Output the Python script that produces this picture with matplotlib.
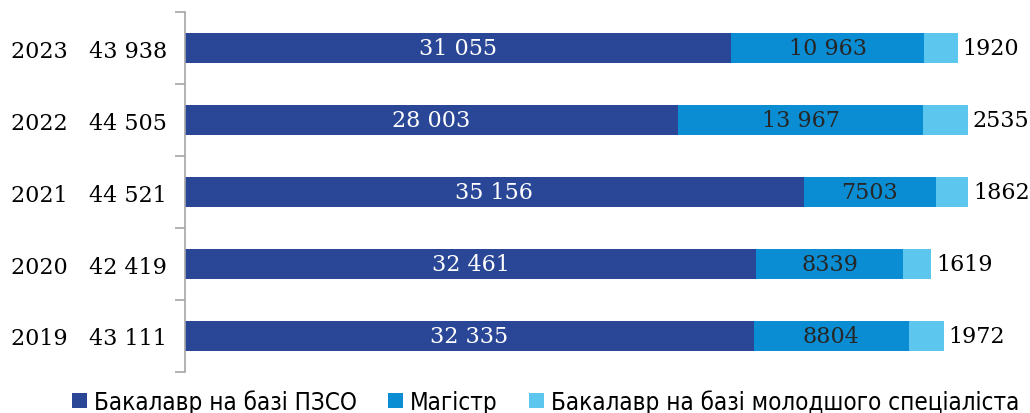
import matplotlib.pyplot as plt
import numpy as np

# data, top row of the chart first
years = ['2023', '2022', '2021', '2020', '2019']
bach_pzso = [31055, 28003, 35156, 32461, 32335]
magistr = [10963, 13967, 7503, 8339, 8804]
bach_molod = [1920, 2535, 1862, 1619, 1972]
series_names = ['Бакалавр на базі ПЗСО', 'Магістр', 'Бакалавр на базі молодшого спеціаліста']

c_dark = '#2a4797'
c_mid = '#0a8dd3'
c_light = '#5cc6ef'


def fmt(v):
    # ukrainian style: no separator for 4-digit numbers
    if v >= 10000:
        return '{:,}'.format(v).replace(',', ' ')
    return str(v)


serif = ['DejaVu Serif']
fs = 16
fig = plt.figure(figsize=(10.3, 4.14), dpi=100)
ax = fig.add_axes([185 / 1030, 1 - 373 / 414, 827 / 1030, 360 / 414])

y = np.arange(len(years))[::-1]
a = np.array(bach_pzso)
b = np.array(magistr)
c = np.array(bach_molod)
h = 0.41
ax.barh(y, a, height=h, color=c_dark, label=series_names[0])
ax.barh(y, b, left=a, height=h, color=c_mid, label=series_names[1])
ax.barh(y, c, left=a + b, height=h, color=c_light, label=series_names[2])

for yi, ai, bi, ci in zip(y, a, b, c):
    ax.text(ai / 2, yi, fmt(ai), ha='center', va='center', color='white',
            fontsize=fs, family=serif)
    ax.text(ai + bi / 2, yi, fmt(bi), ha='center', va='center', color='#262626',
            fontsize=fs, family=serif)
    ax.text(ai + bi + ci + 260, yi, fmt(ci), ha='left', va='center', color='black',
            fontsize=fs, family=serif)

ax.set_xlim(0, 47000)
ax.set_ylim(-0.5, len(years) - 0.5)

totals = a + b + c
ax.set_yticks(y)
ax.set_yticklabels(['%s   %s' % (yr, fmt(t)) for yr, t in zip(years, totals)],
                   family=serif, fontsize=fs)
ax.tick_params(axis='y', length=0, pad=13)
ax.set_yticks(np.arange(-0.5, len(years), 1.0), minor=True)
ax.tick_params(axis='y', which='minor', length=7, color='#a6a6a6', width=1.2)
ax.set_xticks([])

for s in ['top', 'right', 'bottom']:
    ax.spines[s].set_visible(False)
ax.spines['left'].set_color('#a6a6a6')
ax.spines['left'].set_linewidth(1.2)

fig.legend(loc='lower center', bbox_to_anchor=(0.53, -0.055), ncol=3, frameon=False,
           handlelength=0.6, handleheight=0.6, handletextpad=0.3, columnspacing=1.3,
           prop={'family': ['DejaVu Sans'], 'stretch': 'condensed', 'size': 17.4})

fig.savefig('out.png', dpi=100)
